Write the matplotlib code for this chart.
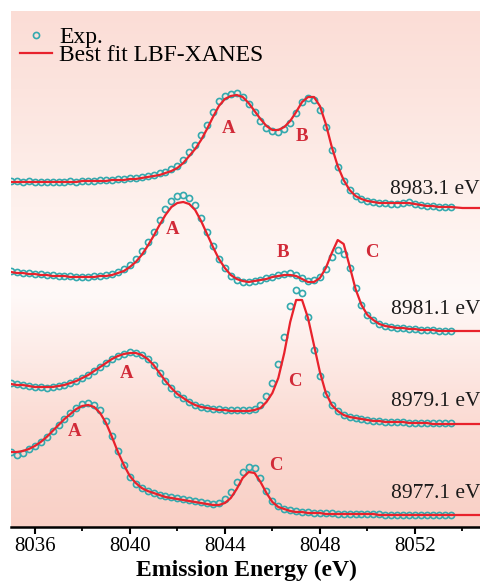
"""Cu Kb XES spectra at several excitation energies with LBF-XANES best fits."""

import matplotlib

matplotlib.use("Agg")
import matplotlib.pyplot as plt
import numpy as np
from matplotlib.colors import LinearSegmentedColormap
from matplotlib.lines import Line2D
from matplotlib.ticker import MultipleLocator

plt.rcParams["font.family"] = ["Liberation Serif", "DejaVu Serif"]

# measurement grid (eV) and the fit grid, which runs on past the last point
energy = np.arange(8035.0, 8053.51, 0.25)
fit_energy = np.append(energy, [8054.0, 8054.8])

excitation = ["8983.1 eV", "8981.1 eV", "8979.1 eV", "8977.1 eV"]
offsets = [3.20, 1.96, 1.04, 0.12]

exp_8983 = [
    0.26, 0.26, 0.25, 0.26, 0.25, 0.25, 0.25, 0.25, 0.25, 0.25,
    0.26, 0.25, 0.26, 0.26, 0.26, 0.27, 0.27, 0.27, 0.28, 0.28,
    0.29, 0.29, 0.30, 0.31, 0.32, 0.34, 0.35, 0.38, 0.41, 0.47,
    0.55, 0.62, 0.72, 0.82, 0.95, 1.06, 1.11, 1.13, 1.14, 1.10,
    1.03, 0.95, 0.86, 0.79, 0.76, 0.75, 0.78, 0.84, 0.94, 1.05,
    1.09, 1.07, 0.97, 0.80, 0.57, 0.40, 0.26, 0.17, 0.11, 0.08,
    0.06, 0.05, 0.04, 0.04, 0.03, 0.03, 0.04, 0.05, 0.03, 0.02,
    0.01, 0.01, 0.00, 0.00, 0.00,
]
fit_8983 = [
    0.25, 0.25, 0.25, 0.25, 0.25, 0.25, 0.25, 0.25, 0.25, 0.25,
    0.25, 0.25, 0.26, 0.26, 0.26, 0.26, 0.26, 0.27, 0.27, 0.27,
    0.28, 0.28, 0.29, 0.30, 0.31, 0.32, 0.34, 0.36, 0.39, 0.44,
    0.51, 0.58, 0.67, 0.78, 0.90, 1.01, 1.08, 1.11, 1.12, 1.10,
    1.04, 0.96, 0.88, 0.81, 0.77, 0.77, 0.80, 0.86, 0.95, 1.05,
    1.10, 1.10, 1.01, 0.83, 0.60, 0.41, 0.27, 0.17, 0.11, 0.08,
    0.06, 0.05, 0.04, 0.04, 0.04, 0.04, 0.04, 0.04, 0.03, 0.02,
    0.01, 0.01, 0.00, 0.00, 0.00, -0.01, -0.01,
]

exp_8981 = [
    0.60, 0.59, 0.58, 0.58, 0.57, 0.57, 0.56, 0.56, 0.55, 0.55,
    0.55, 0.54, 0.54, 0.54, 0.55, 0.55, 0.56, 0.57, 0.59, 0.62,
    0.66, 0.72, 0.80, 0.89, 0.99, 1.11, 1.22, 1.30, 1.35, 1.36,
    1.33, 1.26, 1.13, 0.99, 0.85, 0.72, 0.63, 0.55, 0.51, 0.49,
    0.49, 0.50, 0.51, 0.53, 0.54, 0.56, 0.57, 0.58, 0.56, 0.53,
    0.50, 0.51, 0.54, 0.62, 0.74, 0.81, 0.77, 0.63, 0.43, 0.26,
    0.16, 0.11, 0.07, 0.05, 0.04, 0.03, 0.03, 0.02, 0.02, 0.01,
    0.01, 0.01, 0.00, 0.00, 0.00,
]
fit_8981 = [
    0.59, 0.58, 0.58, 0.57, 0.57, 0.56, 0.56, 0.55, 0.55, 0.55,
    0.54, 0.54, 0.54, 0.54, 0.54, 0.55, 0.55, 0.56, 0.58, 0.60,
    0.64, 0.69, 0.76, 0.85, 0.95, 1.06, 1.16, 1.24, 1.28, 1.29,
    1.27, 1.21, 1.10, 0.97, 0.84, 0.72, 0.63, 0.56, 0.52, 0.50,
    0.49, 0.50, 0.51, 0.52, 0.54, 0.55, 0.56, 0.56, 0.55, 0.52,
    0.49, 0.49, 0.53, 0.63, 0.78, 0.91, 0.87, 0.65, 0.42, 0.26,
    0.16, 0.11, 0.07, 0.05, 0.04, 0.03, 0.03, 0.02, 0.02, 0.01,
    0.01, 0.01, 0.00, 0.00, 0.00, 0.00, 0.00,
]

exp_8979 = [
    0.40, 0.39, 0.38, 0.37, 0.36, 0.36, 0.35, 0.36, 0.37, 0.38,
    0.40, 0.42, 0.45, 0.48, 0.52, 0.56, 0.60, 0.64, 0.67, 0.69,
    0.71, 0.70, 0.68, 0.64, 0.58, 0.50, 0.42, 0.35, 0.29, 0.25,
    0.21, 0.18, 0.16, 0.15, 0.14, 0.14, 0.13, 0.13, 0.13, 0.13,
    0.13, 0.14, 0.18, 0.27, 0.40, 0.59, 0.86, 1.17, 1.33, 1.30,
    1.06, 0.73, 0.47, 0.29, 0.18, 0.12, 0.08, 0.06, 0.05, 0.04,
    0.03, 0.02, 0.02, 0.01, 0.01, 0.01, 0.01, 0.00, 0.00, 0.00,
    0.00, 0.00, 0.00, 0.00, 0.00,
]
fit_8979 = [
    0.39, 0.38, 0.38, 0.37, 0.36, 0.36, 0.36, 0.36, 0.37, 0.38,
    0.40, 0.42, 0.45, 0.48, 0.52, 0.56, 0.60, 0.64, 0.67, 0.69,
    0.70, 0.70, 0.68, 0.64, 0.58, 0.50, 0.42, 0.35, 0.29, 0.25,
    0.21, 0.18, 0.16, 0.15, 0.14, 0.13, 0.13, 0.12, 0.12, 0.12,
    0.12, 0.13, 0.15, 0.21, 0.30, 0.45, 0.70, 1.01, 1.23, 1.23,
    1.05, 0.78, 0.51, 0.30, 0.18, 0.12, 0.08, 0.06, 0.05, 0.04,
    0.03, 0.02, 0.02, 0.01, 0.01, 0.01, 0.01, 0.00, 0.00, 0.00,
    0.00, -0.01, -0.01, -0.01, -0.01, -0.01, -0.01,
]

exp_8977 = [
    0.63, 0.60, 0.62, 0.66, 0.69, 0.73, 0.78, 0.84, 0.90, 0.96,
    1.02, 1.07, 1.11, 1.12, 1.10, 1.05, 0.94, 0.79, 0.64, 0.50,
    0.38, 0.31, 0.27, 0.24, 0.22, 0.20, 0.19, 0.18, 0.17, 0.16,
    0.15, 0.14, 0.13, 0.12, 0.11, 0.12, 0.16, 0.23, 0.33, 0.43,
    0.48, 0.47, 0.37, 0.24, 0.14, 0.09, 0.06, 0.05, 0.04, 0.03,
    0.03, 0.02, 0.02, 0.02, 0.02, 0.01, 0.01, 0.01, 0.01, 0.01,
    0.01, 0.01, 0.01, 0.00, 0.00, 0.00, 0.00, 0.00, 0.00, 0.00,
    0.00, 0.00, 0.00, 0.00, 0.00,
]
fit_8977 = [
    0.63, 0.63, 0.64, 0.66, 0.69, 0.73, 0.78, 0.84, 0.90, 0.96,
    1.01, 1.06, 1.09, 1.10, 1.08, 1.02, 0.92, 0.78, 0.63, 0.50,
    0.39, 0.32, 0.27, 0.24, 0.22, 0.20, 0.18, 0.17, 0.16, 0.15,
    0.14, 0.13, 0.12, 0.11, 0.10, 0.10, 0.12, 0.17, 0.26, 0.37,
    0.43, 0.42, 0.33, 0.22, 0.13, 0.08, 0.06, 0.04, 0.03, 0.03,
    0.02, 0.02, 0.02, 0.01, 0.01, 0.01, 0.01, 0.01, 0.01, 0.01,
    0.01, 0.01, 0.00, 0.00, 0.00, 0.00, 0.00, 0.00, 0.00, 0.00,
    0.00, 0.00, 0.00, 0.00, 0.00, 0.00, 0.00,
]

exp_series = [exp_8983, exp_8981, exp_8979, exp_8977]
fit_series = [fit_8983, fit_8981, fit_8979, fit_8977]

# feature labels: (letter, energy, height above the spectrum's offset)
features = [
    [("A", 8044.17, 0.79), ("B", 8047.24, 0.71)],
    [("A", 8041.81, 1.02), ("B", 8046.44, 0.79), ("C", 8050.19, 0.79)],
    [("A", 8039.87, 0.49), ("C", 8046.95, 0.42)],
    [("A", 8037.68, 0.83), ("C", 8046.15, 0.49)],
]
label_heights = [0.18, 0.22, 0.21, 0.21]

EXP_COLOR = "#33a9ae"
FIT_COLOR = "#e8222c"
TAG_COLOR = "#d12a38"

XMIN, XMAX = 8035.0, 8054.78
YMAX = 5.16

fig = plt.figure(figsize=(4.81, 5.81), dpi=100)
ax = fig.add_axes([11 / 481, 54 / 581, 470 / 481, 516 / 581])

# pink vertical gradient behind the plot
bg = LinearSegmentedColormap.from_list(
    "bg",
    [(0.0, "#f9d0c6"), (0.2, "#fbdbd3"), (0.45, "#fff9f8"),
     (0.62, "#fef1ed"), (0.85, "#fce4de"), (1.0, "#fbddd6")],
)
ax.imshow(np.linspace(0, 1, 256).reshape(-1, 1), cmap=bg, origin="lower",
          extent=[XMIN, XMAX, 0, YMAX], aspect="auto", zorder=0)

for exp, fit, off, tags, tag_y, name in zip(
    exp_series, fit_series, offsets, features, label_heights, excitation
):
    ax.plot(energy, np.array(exp) + off, ls="none", marker="o", ms=4.4,
            mfc="none", mec=EXP_COLOR, mew=1.2, zorder=2)
    ax.plot(fit_energy, np.array(fit) + off, color=FIT_COLOR, lw=1.6, zorder=3)
    for letter, e, h in tags:
        ax.text(e, off + h, letter, color=TAG_COLOR, fontsize=13.5,
                fontweight="bold", ha="center", va="center", zorder=4)
    ax.text(0.998, off + tag_y, name, transform=ax.get_yaxis_transform(),
            ha="right", va="center", fontsize=15.5, color="#1a1a1a", zorder=4)

ax.set_xlim(XMIN, XMAX)
ax.set_ylim(0, YMAX)

for side in ("left", "right", "top"):
    ax.spines[side].set_visible(False)
ax.spines["bottom"].set_linewidth(1.8)
ax.set_yticks([])
ax.xaxis.set_major_locator(MultipleLocator(4))
ax.xaxis.set_minor_locator(MultipleLocator(2))
ax.set_xticks([8036, 8040, 8044, 8048, 8052])
ax.tick_params(axis="x", which="major", direction="out", length=5, width=1.5,
               labelsize=15, pad=2)
ax.tick_params(axis="x", which="minor", direction="out", length=3, width=1.3)
ax.set_xlabel("Emission Energy (eV)", fontsize=17, fontweight="bold", labelpad=3)

handles = [
    Line2D([], [], ls="none", marker="o", ms=4.4, mfc="none", mec=EXP_COLOR, mew=1.2),
    Line2D([], [], color=FIT_COLOR, lw=1.6),
]
ax.legend(handles, ["Exp.", "Best fit LBF-XANES"], loc="upper left",
          bbox_to_anchor=(0.014, 0.975), frameon=False, fontsize=17,
          handlelength=1.35, handletextpad=0.3, labelspacing=-0.12,
          borderpad=0.1, borderaxespad=0.0)

fig.savefig("out.png", dpi=100)
